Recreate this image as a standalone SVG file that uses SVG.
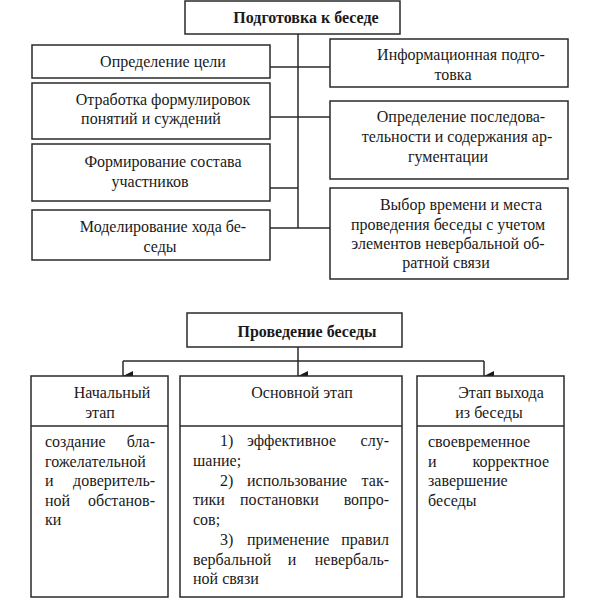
<svg xmlns="http://www.w3.org/2000/svg" width="600" height="600" viewBox="0 0 600 600">
<defs>
<style>
.box{fill:#fff;stroke:#2a2a2a;stroke-width:1.5}
.ln{fill:none;stroke:#2a2a2a;stroke-width:1.5}
text{font-family:"Liberation Serif",Tinos,"DejaVu Serif","Noto Serif","Times New Roman",serif;font-size:16px;fill:#1a1a1a}
.c{text-anchor:middle}
.e{text-anchor:end}
.b{font-weight:bold}
</style>
<marker id="arr" viewBox="0 0 10 10" refX="5" refY="10" markerWidth="10" markerHeight="11" markerUnits="userSpaceOnUse" orient="auto-start-reverse">
<path d="M0,0 L10,0 L5,10 Z" fill="#1a1a1a"/>
</marker>
</defs>
<rect width="600" height="600" fill="#fff"/>

<g id="connectors">
<path class="ln" d="M298,34 V228"/>
<path class="ln" d="M270,67 H330"/>
<path class="ln" d="M270,117 H330"/>
<path class="ln" d="M270,188 H298"/>
<path class="ln" d="M270,228 H330"/>
<path class="ln" d="M298,347 V361"/>
<path class="ln" d="M123,361 H484"/>
<path class="ln" d="M123,361 V376" marker-end="url(#arr)"/>
<path class="ln" d="M298,361 V376" marker-end="url(#arr)"/>
<path class="ln" d="M484,361 V376" marker-end="url(#arr)"/>
</g>

<g id="prep">
<rect class="box" x="185" y="1" width="215" height="33"/>
<text class="c b" x="306" y="23">Подготовка к беседе</text>
</g>

<g id="goal">
<rect class="box" x="32" y="45" width="238" height="33"/>
<text class="c" x="163" y="67">Определение цели</text>
</g>

<g id="wording">
<rect class="box" x="32" y="83" width="238" height="56"/>
<text class="c" x="163" y="105">Отработка формулировок</text>
<text class="c" x="151" y="124">понятий и суждений</text>
</g>

<g id="participants">
<rect class="box" x="32" y="144" width="238" height="57"/>
<text class="c" x="163" y="167">Формирование состава</text>
<text class="c" x="150" y="187">участников</text>
</g>

<g id="modeling">
<rect class="box" x="32" y="210" width="238" height="50"/>
<text class="c" x="163" y="232">Моделирование хода бе-</text>
<text class="c" x="160" y="252">седы</text>
</g>

<g id="info">
<rect class="box" x="330" y="39" width="238" height="48"/>
<text class="c" x="461" y="60">Информационная подго-</text>
<text class="c" x="453" y="80">товка</text>
</g>

<g id="sequence">
<rect class="box" x="330" y="101" width="238" height="78"/>
<text class="c" x="461" y="122">Определение последова-</text>
<text class="c" x="457" y="142">тельности и содержания ар-</text>
<text class="c" x="448" y="162">гументации</text>
</g>

<g id="time">
<rect class="box" x="330" y="188" width="238" height="91"/>
<text class="c" x="461" y="210">Выбор времени и места</text>
<text class="c" x="448" y="230">проведения беседы с учетом</text>
<text class="c" x="448" y="249">элементов невербальной об-</text>
<text class="c" x="446" y="268">ратной связи</text>
</g>

<g id="conduct">
<rect class="box" x="187" y="313" width="215" height="34"/>
<text class="c b" x="307" y="337">Проведение беседы</text>
</g>

<g id="initial">
<rect class="box" x="31" y="376" width="137" height="221"/>
<path class="ln" d="M31,426 H168"/>
<text class="c" x="112" y="398">Начальный</text>
<text class="c" x="100" y="418">этап</text>
<text x="45" y="447">создание</text><text class="e" x="155" y="447">бла-</text>
<text x="45" y="467">гожелательной</text>
<text x="45" y="486">и</text><text class="e" x="155" y="486">доверитель-</text>
<text x="45" y="506">ной</text><text class="e" x="155" y="506">обстанов-</text>
<text x="45" y="525">ки</text>
</g>

<g id="main">
<rect class="box" x="180" y="376" width="222" height="221"/>
<path class="ln" d="M180,426 H402"/>
<text class="c" x="302" y="398">Основной этап</text>
<text x="220" y="446">1)</text><text x="247" y="446">эффективное</text><text class="e" x="389" y="446">слу-</text>
<text x="193" y="466">шание;</text>
<text x="220" y="486">2)</text><text x="247" y="486">использование</text><text class="e" x="389" y="486">так-</text>
<text x="193" y="505">тики</text><text x="240" y="505">постановки</text><text class="e" x="389" y="505">вопро-</text>
<text x="193" y="525">сов;</text>
<text x="220" y="545">3)</text><text x="247" y="545">применение</text><text class="e" x="389" y="545">правил</text>
<text x="193" y="565">вербальной</text><text class="c" x="292" y="565">и</text><text class="e" x="389" y="565">невербаль-</text>
<text x="193" y="584">ной связи</text>
</g>

<g id="exit">
<rect class="box" x="417" y="376" width="147" height="221"/>
<path class="ln" d="M417,426 H564"/>
<text class="c" x="501" y="398">Этап выхода</text>
<text class="c" x="489" y="418">из беседы</text>
<text x="428" y="447">своевременное</text>
<text x="428" y="467">и</text><text class="e" x="549" y="467">корректное</text>
<text x="428" y="486">завершение</text>
<text x="428" y="506">беседы</text>
</g>
</svg>
